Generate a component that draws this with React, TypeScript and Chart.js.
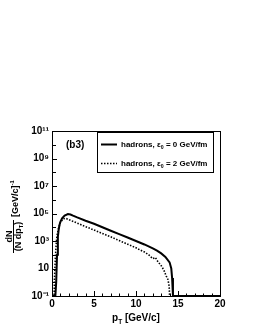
import React, { useEffect, useRef } from 'react';
import { Chart, registerables } from 'chart.js';

Chart.register(...registerables);

// ---- data ----
const SOLID_PT = [0, 0.4, 0.5, 0.6, 0.7, 0.8, 0.9, 1.0, 1.2, 1.5, 1.9, 2.2, 2.5, 3, 4, 5, 6, 7, 8, 9, 10, 11, 12, 12.5, 13, 13.5, 14, 14.2, 14.3, 14.4, 20];
const SOLID_DN = [0.1, 0.1, 1, 100, 2000, 7000, 1.5e4, 2.5e4, 4.5e4, 7e4, 9e4, 8.5e4, 7e4, 5.2e4, 3e4, 1.8e4, 1e4, 5.6e3, 3.2e3, 1.8e3, 1e3, 560, 290, 200, 125, 70, 28, 10, 2, 0.1, 0.1];

const DOT_PT = [0, 0.25, 0.3, 0.4, 0.5, 0.6, 0.8, 1.0, 1.3, 1.6, 2, 3, 4, 5, 6, 7, 8, 9, 10, 10.5, 11, 11.5, 12, 12.3, 12.6, 13, 13.3, 13.6, 13.8, 13.95, 14.0];
const DOT_DN = [0.1, 0.1, 2, 60, 600, 2500, 1e4, 2.2e4, 4e4, 4.5e4, 3.6e4, 2e4, 1.1e4, 6300, 3500, 2000, 1070, 590, 320, 220, 160, 100, 52, 63, 32, 16, 8, 2.8, 1.6, 0.5, 0.1];

const SERIES_LABELS = ['hadrons, ε0 = 0 GeV/fm', 'hadrons, ε0 = 2 GeV/fm'];
const X_MAJOR = [0, 5, 10, 15, 20];
const Y_DECADES = [-1, 0, 1, 2, 3, 4, 5, 6, 7, 8, 9, 10, 11];
const Y_LABELED = [-1, 1, 3, 5, 7, 9, 11];
const PANEL_TAG = '(b3)';

const FAMILY = '"Liberation Sans", Arial, Helvetica, sans-serif';
const SUP: Record<string, string> = { '-': '⁻', '0': '⁰', '1': '¹', '2': '²', '3': '³', '4': '⁴', '5': '⁵', '6': '⁶', '7': '⁷', '8': '⁸', '9': '⁹' };

type Seg = { t: string; s?: number; dy?: number };

function drawRich(ctx: CanvasRenderingContext2D, segs: Seg[], x: number, y: number, size: number, align: 'left' | 'center' | 'right') {
  let w = 0;
  const widths: number[] = [];
  for (const sg of segs) {
    ctx.font = `bold ${size * (sg.s ?? 1)}px ${FAMILY}`;
    const m = ctx.measureText(sg.t).width;
    widths.push(m);
    w += m;
  }
  let cx = align === 'left' ? x : align === 'center' ? x - w / 2 : x - w;
  ctx.textAlign = 'left';
  ctx.textBaseline = 'alphabetic';
  segs.forEach((sg, i) => {
    ctx.font = `bold ${size * (sg.s ?? 1)}px ${FAMILY}`;
    ctx.fillText(sg.t, cx, y + (sg.dy ?? 0));
    cx += widths[i];
  });
}

const rootPlugin = {
  id: 'rootStyle',
  afterDraw(chart: any) {
    const { ctx, chartArea } = chart;
    const { left, right, top, bottom } = chartArea;
    const xs = chart.scales.x;
    const ys = chart.scales.y;
    ctx.save();
    ctx.strokeStyle = '#000';
    ctx.fillStyle = '#000';
    ctx.lineWidth = 1;
    // frame
    ctx.strokeRect(Math.round(left) + 0.5, Math.round(top) + 0.5, Math.round(right - left), Math.round(bottom - top));
    // y ticks (inside)
    ctx.beginPath();
    for (const e of Y_DECADES) {
      const py = Math.round(ys.getPixelForValue(Math.pow(10, e))) + 0.5;
      const len = Y_LABELED.includes(e) ? 5 : 4;
      ctx.moveTo(left, py);
      ctx.lineTo(left + len, py);
    }
    // x ticks (inside)
    for (let v = 0; v <= 20; v += 1) {
      const px = Math.round(xs.getPixelForValue(v)) + 0.5;
      const len = X_MAJOR.includes(v) ? 5 : 2.5;
      ctx.moveTo(px, bottom);
      ctx.lineTo(px, bottom - len);
    }
    ctx.stroke();

    // x title
    drawRich(ctx, [{ t: 'p' }, { t: 'T', s: 0.65, dy: 2.5 }, { t: ' [GeV/c]' }], (left + right) / 2, 321, 10, 'center');

    // y title (rotated)
    ctx.save();
    ctx.translate(13, 216);
    ctx.rotate(-Math.PI / 2);
    const fc = -20.5;
    drawRich(ctx, [{ t: 'dN' }], fc, -1.5, 9, 'center');
    drawRich(ctx, [{ t: '(N dp' }, { t: 'T', s: 0.65, dy: 2 }, { t: ')' }], fc, 7.5, 9, 'center');
    ctx.beginPath();
    ctx.moveTo(-37, 0.5);
    ctx.lineTo(-4, 0.5);
    ctx.stroke();
    drawRich(ctx, [{ t: '[GeV/c]' }, { t: '-1', s: 0.65, dy: -4 }], -1, 5, 9, 'left');
    ctx.restore();

    // panel tag
    drawRich(ctx, [{ t: PANEL_TAG }], 66, 148, 10, 'left');

    // legend
    const bx = 97.5, by = 132.5, bw = 116, bh = 40;
    ctx.fillStyle = '#fff';
    ctx.fillRect(bx, by, bw, bh);
    ctx.strokeRect(bx, by, bw, bh);
    ctx.fillStyle = '#000';
    const rows = [144, 163];
    chart.data.datasets.forEach((ds: any, i: number) => {
      const ry = rows[i];
      ctx.save();
      ctx.lineWidth = ds.borderWidth;
      ctx.setLineDash(ds.borderDash || []);
      ctx.beginPath();
      ctx.moveTo(101, ry + 0.5);
      ctx.lineTo(117, ry + 0.5);
      ctx.stroke();
      ctx.restore();
      const parts = String(SERIES_LABELS[i]).split('ε0');
      drawRich(ctx, [{ t: parts[0] }, { t: 'ε' }, { t: '0', s: 0.65, dy: 2 }, { t: parts[1] }], 121, ry + 3, 8, 'left');
    });
    ctx.restore();
  },
};

export default function App() {
  const ref = useRef<HTMLCanvasElement | null>(null);
  useEffect(() => {
    if (!ref.current) return;
    const chart = new Chart(ref.current, {
      type: 'line',
      data: {
        datasets: [
          {
            label: SERIES_LABELS[0],
            data: SOLID_PT.map((x, i) => ({ x, y: SOLID_DN[i] })),
            borderColor: '#000',
            borderWidth: 2,
            pointRadius: 0,
            tension: 0,
            fill: false,
          },
          {
            label: SERIES_LABELS[1],
            data: DOT_PT.map((x, i) => ({ x, y: DOT_DN[i] })),
            borderColor: '#000',
            borderWidth: 1.6,
            borderDash: [1.5, 1.5],
            pointRadius: 0,
            tension: 0,
            fill: false,
          },
        ],
      },
      options: {
        animation: false,
        responsive: false,
        layout: { padding: { top: 131, right: 35, left: 0, bottom: 0 } },
        plugins: { legend: { display: false }, tooltip: { enabled: false } },
        scales: {
          x: {
            type: 'linear',
            min: 0,
            max: 20,
            afterFit: (s: any) => { s.height = 34; },
            afterBuildTicks: (s: any) => { s.ticks = X_MAJOR.map((v) => ({ value: v })); },
            grid: { display: false, drawTicks: false },
            border: { display: false },
            ticks: { color: '#000', font: { family: FAMILY, size: 10, weight: 'bold' }, padding: 2, maxRotation: 0, autoSkip: false },
          },
          y: {
            type: 'logarithmic',
            min: 0.1,
            max: 1e11,
            afterFit: (s: any) => { s.width = 52; },
            afterBuildTicks: (s: any) => { s.ticks = Y_DECADES.map((e) => ({ value: Math.pow(10, e) })); },
            grid: { display: false, drawTicks: false },
            border: { display: false },
            ticks: {
              color: '#000',
              font: { family: FAMILY, size: 10, weight: 'bold' },
              padding: 3,
              autoSkip: false,
              callback: (v: any) => {
                const e = Math.round(Math.log10(Number(v)));
                if (!Y_LABELED.includes(e)) return '';
                if (e === 1) return '10';
                return '10' + String(e).split('').map((c) => SUP[c]).join('');
              },
            },
          },
        },
      },
      plugins: [rootPlugin],
    } as any);
    return () => chart.destroy();
  }, []);
  return (
    <div style={{ position: 'absolute', left: 0, top: 0, width: 255, height: 330, background: '#fff' }}>
      <canvas ref={ref} width={255} height={330} style={{ display: 'block' }} />
    </div>
  );
}
